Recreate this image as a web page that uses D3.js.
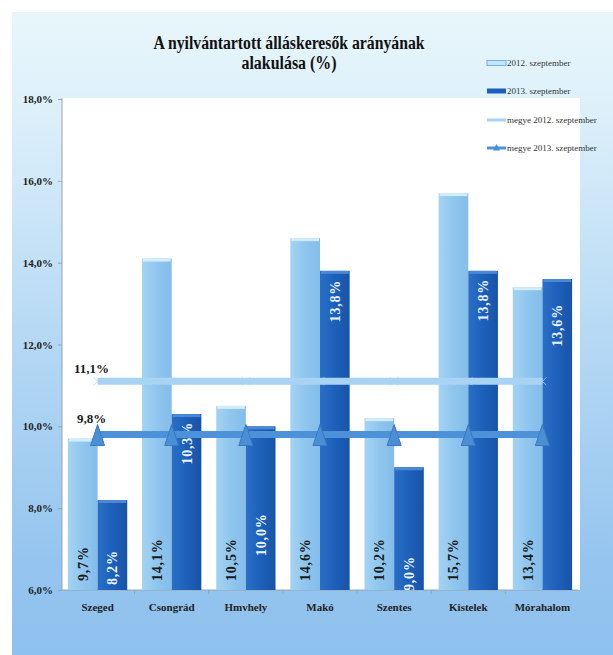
<!DOCTYPE html>
<html><head><meta charset="utf-8">
<script src="https://cdn.jsdelivr.net/npm/d3@7"></script>
<style>body{margin:0;background:#fff}svg{display:block}</style>
</head><body>
<svg id="c" width="613" height="655"></svg>
<script>
// ---- data ----
const categories = ["Szeged","Csongrád","Hmvhely","Makó","Szentes","Kistelek","Mórahalom"];
const values2012 = [9.7, 14.1, 10.5, 14.6, 10.2, 15.7, 13.4];
const values2013 = [8.2, 10.3, 10.0, 13.8, 9.0, 13.8, 13.6];
const county2012 = [11.1, 11.1, 11.1, 11.1, 11.1, 11.1, 11.1];
const county2013 = [9.8, 9.8, 9.8, 9.8, 9.8, 9.8, 9.8];
const yTicks = [6, 8, 10, 12, 14, 16, 18];
const seriesNames = ["2012. szeptember","2013. szeptember","megye 2012. szeptember","megye 2013. szeptember"];
const titleLines = ["A nyilvántartott álláskeresők arányának","alakulása (%)"];

// ---- layout ----
const W = 613, H = 655;
const plot = {left: 62, right: 580, top: 98, bottom: 590};
const serif = "'Liberation Serif','Times New Roman',serif";
const c2012 = "#92c8ef", c2013 = "#1d60ba", cLine12 = "#a8d3f3", cLine13 = "#4d92d8";
const fmt = v => d3.format(".1f")(v).replace(".", ",") + "%";

const svg = d3.select("#c");
const defs = svg.append("defs");
const bg = defs.append("linearGradient").attr("id","bg").attr("x1",0).attr("y1",0).attr("x2",0).attr("y2",1);
[[0,"#e8f6fb"],[0.15,"#ddf0fa"],[0.5,"#b6d9f4"],[0.85,"#95c5ef"],[1,"#8fc1ee"]]
  .forEach(([o,c]) => bg.append("stop").attr("offset",o).attr("stop-color",c));
const gl = defs.append("linearGradient").attr("id","gl").attr("x1",0).attr("x2",1);
[[0,"#a4d3f3"],[0.5,"#8fc6ee"],[1,"#84bdea"]].forEach(([o,c]) => gl.append("stop").attr("offset",o).attr("stop-color",c));
const gd = defs.append("linearGradient").attr("id","gd").attr("x1",0).attr("x2",1);
[[0,"#2a6fc6"],[0.5,"#1d60ba"],[1,"#1854a8"]].forEach(([o,c]) => gd.append("stop").attr("offset",o).attr("stop-color",c));
defs.append("clipPath").attr("id","clip").append("rect")
  .attr("x", plot.left).attr("y", plot.top).attr("width", plot.right - plot.left).attr("height", plot.bottom - plot.top);

svg.append("rect").attr("x",12).attr("y",12).attr("width",W-12).attr("height",H-12).attr("fill","url(#bg)");
svg.append("rect").attr("x",plot.left).attr("y",plot.top).attr("width",plot.right-plot.left).attr("height",plot.bottom-plot.top).attr("fill","#fff");

// ---- scales ----
const x = d3.scaleBand().domain(categories).range([60.5, 579.5]).paddingInner(0.2).paddingOuter(0.1);
const xs = d3.scaleBand().domain(["2012","2013"]).range([0, x.bandwidth()]);
const y = d3.scaleLinear().domain([6, 18]).range([590, 99]);

// ---- axes ----
const yAxis = svg.append("g").attr("transform",`translate(${plot.left},0)`)
  .call(d3.axisLeft(y).tickValues(yTicks).tickFormat(fmt).tickSize(4).tickPadding(5));
yAxis.select(".domain").attr("stroke","#9aa4ad").attr("d",`M0,${plot.top}V${plot.bottom}`);
yAxis.selectAll(".tick line").attr("stroke","#9aa4ad");
yAxis.selectAll(".tick text").attr("font-family",serif).attr("font-weight","bold").attr("font-size",11).attr("fill","#222");

const xAxis = svg.append("g").attr("transform",`translate(0,${plot.bottom})`)
  .call(d3.axisBottom(x).tickSize(0).tickPadding(13));
xAxis.select(".domain").attr("stroke","#9aa4ad").attr("d",`M${plot.left},0H578`);
xAxis.selectAll(".tick text").attr("font-family",serif).attr("font-weight","bold").attr("font-size",11).attr("fill","#222");
svg.append("g").selectAll("line").data(categories.slice(1)).join("line")
  .attr("x1", d => x(d) - x.step()*x.paddingInner()/2).attr("x2", d => x(d) - x.step()*x.paddingInner()/2)
  .attr("y1", plot.bottom).attr("y2", plot.bottom + 4).attr("stroke","#9aa4ad");

// ---- bars ----
const bars = svg.append("g").attr("clip-path","url(#clip)");
const rows = categories.map((c,i) => ({c, i, v12: values2012[i], v13: values2013[i]}));
const grp = bars.selectAll("g").data(rows).join("g").attr("transform", d => `translate(${x(d.c)},0)`);
grp.append("rect").attr("x", xs("2012")).attr("width", xs.bandwidth())
  .attr("y", d => y(d.v12)).attr("height", d => y(6) - y(d.v12)).attr("fill","url(#gl)");
grp.append("rect").attr("x", xs("2012")+1).attr("width", xs.bandwidth()-2)
  .attr("y", d => y(d.v12)).attr("height", 3).attr("fill","#d4ecfa");
grp.append("rect").attr("x", xs("2013")).attr("width", xs.bandwidth())
  .attr("y", d => y(d.v13)).attr("height", d => y(6) - y(d.v13)).attr("fill","url(#gd)");
grp.append("rect").attr("x", xs("2013")+1).attr("width", xs.bandwidth()-2)
  .attr("y", d => y(d.v13)).attr("height", 3).attr("fill","#4c88d4");

// labels
const labelFont = g => g.attr("font-family",serif).attr("font-weight","bold").attr("font-size",14).attr("letter-spacing",0.8);
grp.append("text").call(labelFont).attr("fill","#1a1a1a")
  .attr("transform", d => `translate(${xs("2012") + xs.bandwidth()/2 + 5},${plot.bottom - 9}) rotate(-90)`)
  .text(d => fmt(d.v12));
// 2013 label placement (anchor: "top" = inside end with offset; "base" = from axis with offset)
const lab13 = {"Szeged":["base",5], "Csongrád":["top",8], "Hmvhely":["base",34], "Makó":["top",9],
               "Szentes":["base",-1], "Kistelek":["top",8], "Mórahalom":["top",25]};
grp.append("text").call(labelFont).attr("fill","#eaf3fc")
  .attr("text-anchor", d => lab13[d.c][0] === "top" ? "end" : "start")
  .attr("transform", d => {
    const [m, off] = lab13[d.c];
    const yy = m === "top" ? y(d.v13) + off : plot.bottom - off;
    return `translate(${xs("2013") + xs.bandwidth()/2 + 5},${yy}) rotate(-90)`;
  })
  .text(d => fmt(d.v13));

// ---- county lines ----
const cx = c => x(c) + x.bandwidth()/2;
const line = d3.line().x((d,i) => cx(categories[i])).y(d => y(d));
svg.append("path").datum(county2012).attr("d", line).attr("fill","none").attr("stroke",cLine12).attr("stroke-width",7);
svg.append("g").selectAll("path").data(county2012).join("path")
  .attr("d", (d,i) => { const X = cx(categories[i]), Y = y(d); return `M${X-4},${Y-4}L${X+4},${Y+4}M${X-4},${Y+4}L${X+4},${Y-4}`; })
  .attr("stroke", cLine12).attr("stroke-width",1).attr("opacity",0.8);
svg.append("path").datum(county2013).attr("d", line).attr("fill","none").attr("stroke",cLine13).attr("stroke-width",7);
svg.append("g").selectAll("path").data(county2013).join("path")
  .attr("d", (d,i) => { const X = cx(categories[i]), Y = y(d); return `M${X},${Y-10}L${X+7},${Y+11}L${X-7},${Y+11}Z`; })
  .attr("fill","#4a8fd6").attr("stroke","#3a78c0").attr("stroke-width",1);
svg.append("text").attr("x", cx(categories[0]) - 6).attr("y", y(county2012[0]) - 8)
  .attr("text-anchor","middle").attr("font-family",serif).attr("font-weight","bold").attr("font-size",13).attr("fill","#1a1a1a")
  .text(fmt(county2012[0]));
svg.append("text").attr("x", cx(categories[0]) - 6).attr("y", y(county2013[0]) - 12)
  .attr("text-anchor","middle").attr("font-family",serif).attr("font-weight","bold").attr("font-size",13).attr("fill","#1a1a1a")
  .text(fmt(county2013[0]));

// ---- title ----
const titleW = [271, 95];
svg.append("g").selectAll("text").data(titleLines).join("text")
  .attr("x", 289).attr("y", (d,i) => 49 + i*20).attr("text-anchor","middle")
  .attr("font-family",serif).attr("font-weight","bold").attr("font-size",18).attr("fill","#111")
  .attr("textLength", (d,i) => titleW[i]).attr("lengthAdjust","spacingAndGlyphs")
  .text(d => d);

// ---- legend ----
const legY = [63, 91, 120, 148];
const leg = svg.append("g").selectAll("g").data(seriesNames).join("g")
  .attr("transform", (d,i) => `translate(487,${legY[i]})`);
leg.each(function(d,i){
  const g = d3.select(this);
  if (i === 0) g.append("rect").attr("x",0).attr("y",-2.5).attr("width",19).attr("height",5).attr("fill","#c4e4f8").attr("stroke","#6fb0e6");
  if (i === 1) g.append("rect").attr("x",0).attr("y",-2.5).attr("width",19).attr("height",5).attr("fill",c2013);
  if (i === 2) g.append("line").attr("x1",0).attr("x2",19).attr("stroke",cLine12).attr("stroke-width",3);
  if (i === 3) {
    g.append("line").attr("x1",0).attr("x2",19).attr("stroke",cLine13).attr("stroke-width",3);
    g.append("path").attr("d","M9.5,-4L13,2.5L6,2.5Z").attr("fill","#4a8fd6");
  }
});
leg.append("text").attr("x",20).attr("y",3).attr("font-family",serif).attr("font-size",9).attr("fill","#333").text(d => d);
</script>
</body></html>
